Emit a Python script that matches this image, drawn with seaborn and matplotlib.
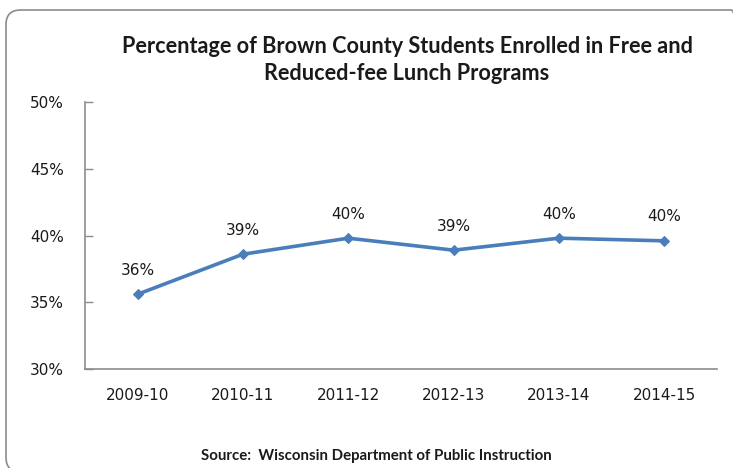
import matplotlib
matplotlib.use("Agg")
import matplotlib.pyplot as plt
from matplotlib.patches import FancyBboxPatch
import seaborn as sns
import pandas as pd

# School years and share of students in free / reduced-fee lunch programs (%)
years = ["2009-10", "2010-11", "2011-12", "2012-13", "2013-14", "2014-15"]
share = [35.6, 38.6, 39.8, 38.9, 39.8, 39.6]
y_ticks = [30, 35, 40, 45, 50]

title = "Percentage of Brown County Students Enrolled in Free and\nReduced-fee Lunch Programs"
source = "Source:  Wisconsin Department of Public Instruction"

sns.set_theme(style="white")
plt.rcParams["font.family"] = ["DejaVu Sans"]

df = pd.DataFrame({"year": years, "share": share})

W, H = 733, 468
fig = plt.figure(figsize=(W / 100, H / 100), dpi=100)
fig.patch.set_facecolor("white")

# rounded chart frame (right edge runs just past the canvas)
frame = FancyBboxPatch((6 / W, 1 - 472 / H), 740 / W, 462 / H,
                       boxstyle="round,pad=0,rounding_size=0.02",
                       mutation_aspect=W / H,
                       transform=fig.transFigure, facecolor="none",
                       edgecolor="#8c8c8c", linewidth=1.2, zorder=-1)
fig.patches.append(frame)

ax = fig.add_axes([85 / W, 1 - 369 / H, 632 / W, 267 / H])
ax.set_facecolor("none")

line_color = "#4A7EBB"
sns.lineplot(data=df, x="year", y="share", ax=ax, color=line_color,
             linewidth=2.6, marker="D", markersize=5.5,
             markeredgecolor=line_color, sort=False)

for i, v in enumerate(share):
    ax.annotate(f"{v:.0f}%", (i, v), xytext=(0, 12), textcoords="offset points",
                ha="center", va="bottom", fontsize=11, color="#1a1a1a")

ax.set_xlim(-0.5, len(years) - 0.5)
ax.set_ylim(30, 50)
ax.set_yticks(y_ticks)
ax.set_yticklabels([f"{t}%" for t in y_ticks], fontsize=11, color="#1a1a1a")
ax.set_xticks(range(len(years)))
ax.set_xticklabels(years, fontsize=11, color="#1a1a1a")
ax.set_xlabel("")
ax.set_ylabel("")

# category-boundary tick marks on the x axis
ax.set_xticks([i + 0.5 for i in range(len(years) - 1)] + [-0.5, len(years) - 0.5], minor=True)
ax.tick_params(axis="x", which="major", length=0, pad=14)
ax.tick_params(axis="x", which="minor", direction="in", length=6, color="#8c8c8c", width=1)
ax.tick_params(axis="y", which="major", direction="in", length=6, color="#8c8c8c",
               width=1, left=True, pad=15)

for side in ["top", "right"]:
    ax.spines[side].set_visible(False)
for side in ["left", "bottom"]:
    ax.spines[side].set_color("#8c8c8c")
    ax.spines[side].set_linewidth(1.2)

fig.text(407 / W, 1 - 60 / H, title, ha="center", va="center",
         fontsize=15.6, fontweight="bold", family="Lato", linespacing=1.35,
         color="#1a1a1a")
fig.text(376 / W, 1 - 456 / H, source, ha="center", va="center",
         fontsize=10.8, fontweight="bold", family="Lato", color="#1a1a1a")

fig.savefig("out.png", dpi=100, facecolor="white")
